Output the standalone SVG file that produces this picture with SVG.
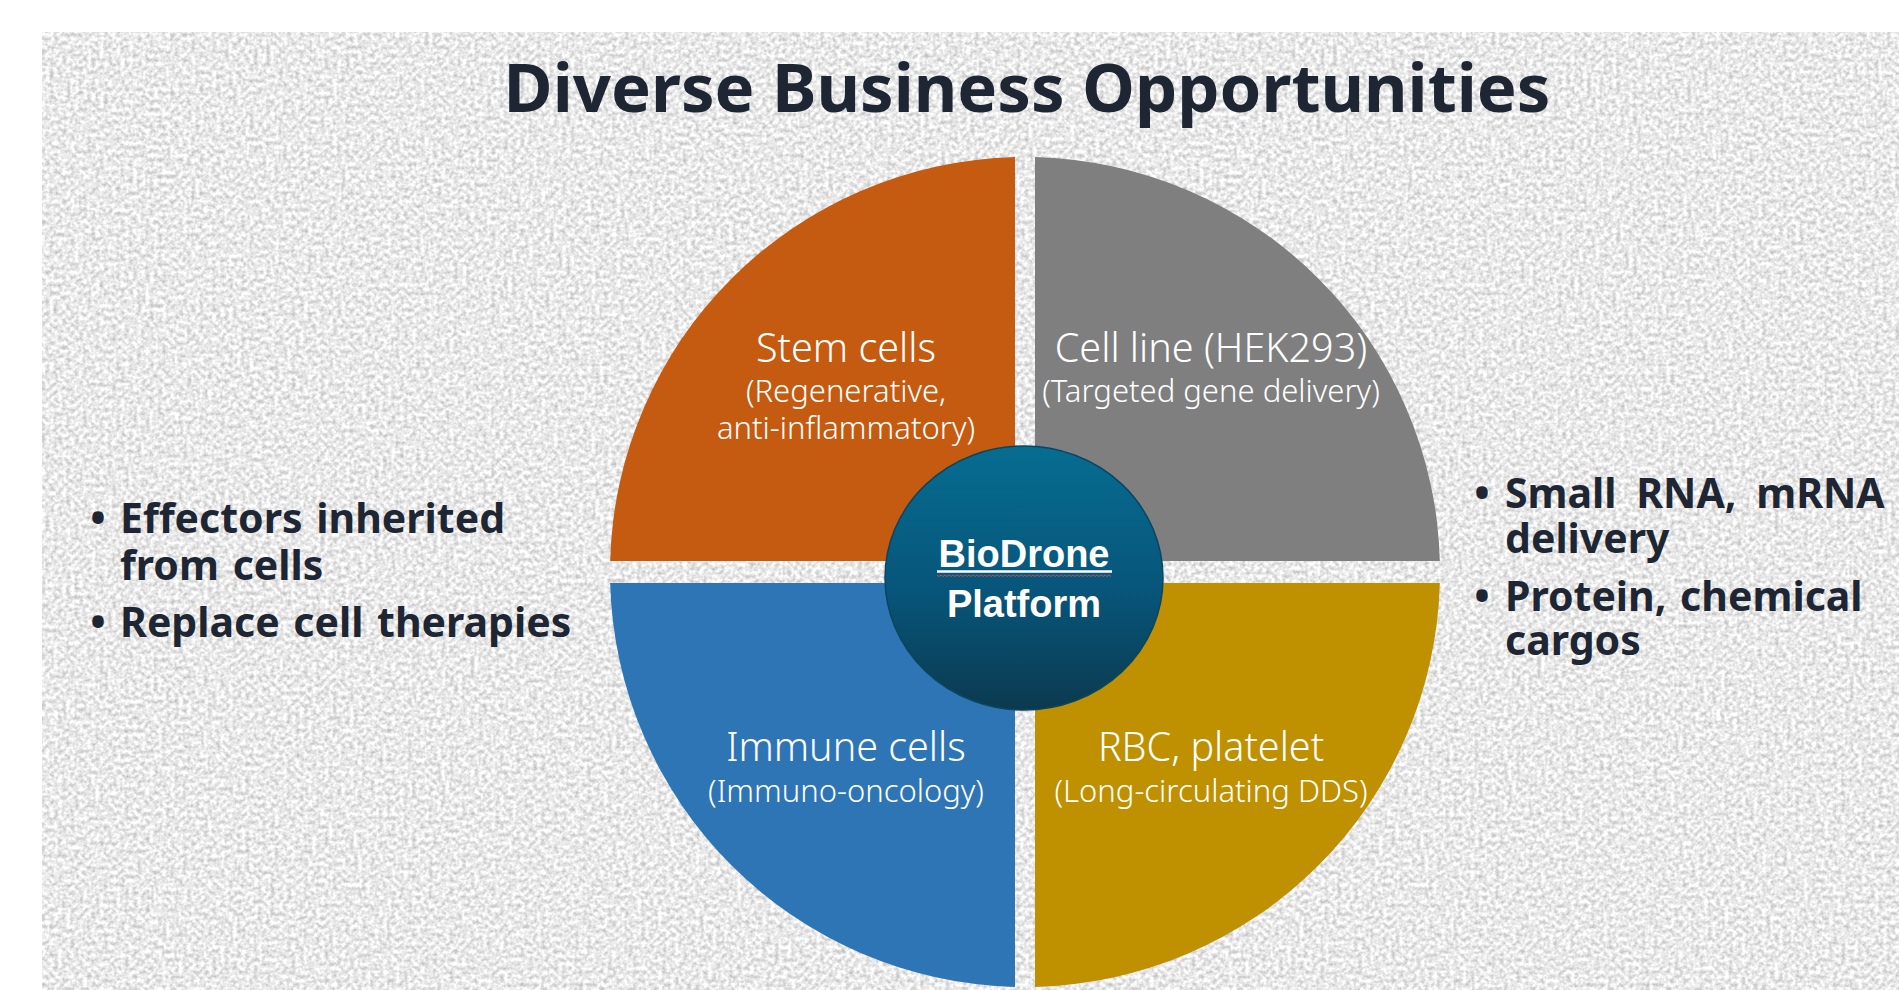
<svg xmlns="http://www.w3.org/2000/svg" width="1899" height="990" viewBox="0 0 1899 990">
  <defs>
    <style>
      .title { font-family: "Noto Sans", "Open Sans", sans-serif; font-weight: 700; font-size: 67px; fill: #1e2633; }
      .bullet { font-family: "Noto Sans", "Open Sans", sans-serif; font-weight: 700; font-size: 41px; fill: #1e2633; word-spacing: 3px; }
      .wide { word-spacing: 9px; }
      .q-head { font-family: "Noto Sans", "Open Sans", sans-serif; font-weight: 300; font-size: 39.5px; fill: #ffffff; text-anchor: middle; }
      .q-sub { font-family: "Noto Sans", "Open Sans", sans-serif; font-weight: 300; font-size: 31px; fill: #ffffff; text-anchor: middle; }
      .hub-text { font-family: "Liberation Sans", Arial, sans-serif; font-weight: 700; font-size: 38px; fill: #ffffff; text-anchor: middle; }
    </style>
    <!-- speckled stone backdrop -->
    <filter id="granite" filterUnits="userSpaceOnUse" x="42" y="32" width="1857" height="958" color-interpolation-filters="sRGB">
      <feTurbulence type="fractalNoise" baseFrequency="0.24" numOctaves="2" seed="11" result="noise"/>
      <feColorMatrix in="noise" type="matrix" values="0.45 0 0 0 0.69  0.45 0 0 0 0.69  0.45 0 0 0 0.69  0 0 0 0 1"/>
    </filter>
    <linearGradient id="hubFill" x1="0" y1="0" x2="0" y2="1">
      <stop offset="0" stop-color="#066d91"/>
      <stop offset="0.55" stop-color="#07557a"/>
      <stop offset="1" stop-color="#0b3a4f"/>
    </linearGradient>
  </defs>

  <!-- page -->
  <rect x="0" y="0" width="1899" height="990" fill="#ffffff"/>
  <rect x="42" y="32" width="1857" height="958" fill="#ececec" filter="url(#granite)"/>

  <!-- heading -->
  <g id="title">
    <text class="title" x="1027" y="112" text-anchor="middle">Diverse Business Opportunities</text>
  </g>

  <!-- four quadrants of the pie -->
  <g id="quadrant-stem-cells">
    <path d="M1015 561 V157.12 A415 415 0 0 0 610.15 561 Z" fill="#c55a11"/>
    <text class="q-head" x="846" y="362">Stem cells</text>
    <text class="q-sub" x="846" y="402">(Regenerative,<tspan x="846" dy="37">anti-inflammatory)</tspan></text>
  </g>

  <g id="quadrant-cell-line">
    <path d="M1035 561 V157.12 A415 415 0 0 1 1439.85 561 Z" fill="#7f7f7f"/>
    <text class="q-head" x="1211" y="362">Cell line (HEK293)</text>
    <text class="q-sub" x="1211" y="402">(Targeted gene delivery)</text>
  </g>

  <g id="quadrant-immune-cells">
    <path d="M1015 583 V986.88 A415 415 0 0 1 610.15 583 Z" fill="#2e75b6"/>
    <text class="q-head" x="846" y="761">Immune cells</text>
    <text class="q-sub" x="846" y="802">(Immuno-oncology)</text>
  </g>

  <g id="quadrant-rbc-platelet">
    <path d="M1035 583 V986.88 A415 415 0 0 0 1439.85 583 Z" fill="#bf9000"/>
    <text class="q-head" x="1211" y="761">RBC, platelet</text>
    <text class="q-sub" x="1211" y="802">(Long-circulating DDS)</text>
  </g>

  <!-- central hub -->
  <g id="hub-biodrone-platform">
    <ellipse cx="1024" cy="578" rx="139" ry="132" fill="url(#hubFill)" stroke="#0a4660" stroke-width="1.5"/>
    <text class="hub-text" x="1024" y="567">BioDrone</text>
    <line x1="937" y1="571.5" x2="1112" y2="571.5" stroke="#ffffff" stroke-width="2.5"/>
    <polyline points="937,575 939,576.5 941,575 943,576.5 945,575 947,576.5 949,575 951,576.5 953,575 955,576.5 957,575 959,576.5 961,575 963,576.5 965,575 967,576.5 969,575 971,576.5 973,575 975,576.5 977,575 979,576.5 981,575 983,576.5 985,575 987,576.5 989,575 991,576.5 993,575 995,576.5 997,575 999,576.5 1001,575 1003,576.5 1005,575 1007,576.5 1009,575 1011,576.5 1013,575 1015,576.5 1017,575 1019,576.5 1021,575 1023,576.5 1025,575 1027,576.5 1029,575 1031,576.5 1033,575 1035,576.5 1037,575 1039,576.5 1041,575 1043,576.5 1045,575 1047,576.5 1049,575 1051,576.5 1053,575 1055,576.5 1057,575 1059,576.5 1061,575 1063,576.5 1065,575 1067,576.5 1069,575 1071,576.5 1073,575 1075,576.5 1077,575 1079,576.5 1081,575 1083,576.5 1085,575 1087,576.5 1089,575 1091,576.5 1093,575 1095,576.5 1097,575 1099,576.5 1101,575 1103,576.5 1105,575 1107,576.5 1109,575 1111,576.5" fill="none" stroke="#c0504d" stroke-width="1"/>
    <text class="hub-text" x="1024" y="617">Platform</text>
  </g>

  <!-- side notes: each bullet is one text, wrapped with tspans -->
  <g id="notes-left">
    <text class="bullet" x="98" y="533" text-anchor="middle">•</text>
    <text class="bullet" x="120" y="533">Effectors inherited<tspan x="120" dy="47">from cells</tspan></text>
    <text class="bullet" x="98" y="637" text-anchor="middle">•</text>
    <text class="bullet" x="120" y="637">Replace cell therapies</text>
  </g>

  <g id="notes-right">
    <text class="bullet" x="1482" y="508" text-anchor="middle">•</text>
    <text class="bullet" x="1505" y="508"><tspan class="wide">Small RNA, mRNA</tspan><tspan x="1505" dy="45">delivery</tspan></text>
    <text class="bullet" x="1482" y="611" text-anchor="middle">•</text>
    <text class="bullet" x="1505" y="611">Protein, chemical<tspan x="1505" dy="44">cargos</tspan></text>
  </g>
</svg>
